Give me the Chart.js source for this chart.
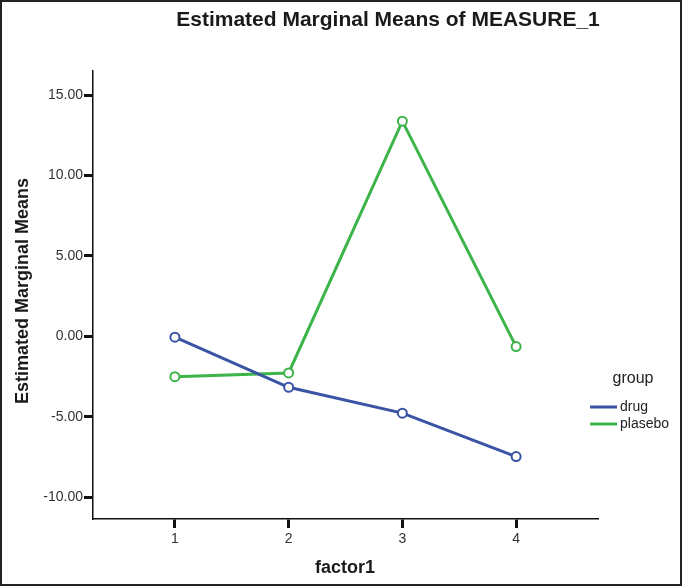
<!DOCTYPE html>
<html>
<head>
<meta charset="utf-8">
<title>Estimated Marginal Means of MEASURE_1</title>
<script src="https://cdn.jsdelivr.net/npm/chart.js@4"></script>
<style>
  html, body { margin: 0; padding: 0; background: #fff; }
  canvas { display: block; }
</style>
</head>
<body>
<canvas id="emmChart" width="684" height="586"></canvas>
<script>
// values
const factorLevels = [1, 2, 3, 4];
const drugMeans = [-0.05, -3.16, -4.77, -7.47];
const plaseboMeans = [-2.50, -2.27, 13.38, -0.63];
const yTickValues = [-10, -5, 0, 5, 10, 15];
const groupNames = ['drug', 'plasebo'];

const BLUE = '#3a53a4';
const GREEN = '#3cb44a';
const FONT = '"Liberation Sans", Arial, sans-serif';

const toPoints = (vals) => factorLevels.map((f, i) => ({ x: f, y: vals[i] }));

const lineSet = (label, vals, color) => ({
  label: label,
  data: toPoints(vals),
  borderColor: color,
  backgroundColor: '#fff',
  borderWidth: 3,
  pointRadius: 4.5,
  pointBorderWidth: 2,
  pointBackgroundColor: '#fff',
  pointBorderColor: color,
  tension: 0,
  fill: false,
});

// title, axis titles, legend and outer frame
const decorations = {
  id: 'decorations',
  afterDraw(chart) {
    const ctx = chart.ctx;
    ctx.save();
    ctx.fillStyle = '#1a1a1a';
    ctx.textBaseline = 'middle';

    ctx.font = 'bold 21px ' + FONT;
    ctx.textAlign = 'center';
    ctx.fillText('Estimated Marginal Means of MEASURE_1', 388, 20);

    ctx.font = 'bold 18px ' + FONT;
    ctx.fillText('factor1', 345, 568);

    ctx.save();
    ctx.translate(23, 291);
    ctx.rotate(-Math.PI / 2);
    ctx.fillText('Estimated Marginal Means', 0, 0);
    ctx.restore();

    // legend
    ctx.font = '16px ' + FONT;
    ctx.fillStyle = '#222';
    ctx.fillText('group', 633, 379);
    const colors = [BLUE, GREEN];
    ctx.font = '14px ' + FONT;
    ctx.textAlign = 'left';
    groupNames.forEach((name, i) => {
      const y = 407 + i * 17;
      ctx.strokeStyle = colors[i];
      ctx.lineWidth = 3;
      ctx.beginPath();
      ctx.moveTo(590, y);
      ctx.lineTo(617, y);
      ctx.stroke();
      ctx.fillText(name, 620, y);
    });

    // frame round the whole picture
    ctx.strokeStyle = '#222';
    ctx.lineWidth = 2;
    ctx.strokeRect(1, 1, 680, 584);
    ctx.restore();
  }
};

const ctx = document.getElementById('emmChart').getContext('2d');
new Chart(ctx, {
  type: 'line',
  data: {
    datasets: [
      lineSet(groupNames[0], drugMeans, BLUE),
      lineSet(groupNames[1], plaseboMeans, GREEN),
    ],
  },
  options: {
    responsive: false,
    animation: false,
    layout: { padding: { top: 71, right: 86, left: 0, bottom: 0 } },
    plugins: {
      legend: { display: false },
      title: { display: false },
      tooltip: { enabled: false },
    },
    scales: {
      x: {
        type: 'linear',
        min: 0.28,
        max: 4.72,
        afterBuildTicks: (axis) => { axis.ticks = factorLevels.map((v) => ({ value: v })); },
        afterFit: (axis) => { axis.height = 67; },
        ticks: {
          color: '#333',
          font: { family: FONT, size: 14 },
          padding: 3,
          callback: (v) => String(v),
        },
        grid: {
          drawOnChartArea: false,
          drawTicks: true,
          tickLength: 9,
          tickWidth: 3,
          tickColor: '#111',
        },
        border: { display: true, color: '#111', width: 1.5 },
      },
      y: {
        type: 'linear',
        min: -11.35,
        max: 16.5,
        afterBuildTicks: (axis) => { axis.ticks = yTickValues.map((v) => ({ value: v })); },
        afterFit: (axis) => { axis.width = 93; },
        ticks: {
          color: '#333',
          font: { family: FONT, size: 14 },
          padding: 1,
          callback: (v) => v.toFixed(2),
        },
        grid: {
          drawOnChartArea: false,
          drawTicks: true,
          tickLength: 9,
          tickWidth: 3,
          tickColor: '#111',
        },
        border: { display: true, color: '#111', width: 1.5 },
      },
    },
  },
  plugins: [decorations],
});
</script>
</body>
</html>
